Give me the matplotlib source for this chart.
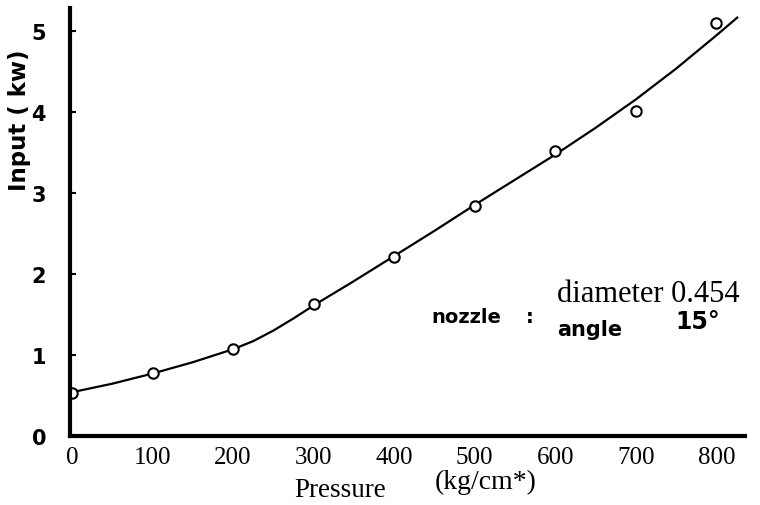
import matplotlib
matplotlib.use("Agg")
import matplotlib.pyplot as plt

# measured points (pressure kg/cm2 -> input kW)
pressure = [0, 100, 200, 300, 400, 500, 600, 700, 800]
power = [0.53, 0.78, 1.07, 1.63, 2.21, 2.84, 3.52, 4.01, 5.09]

# hand drawn fit curve
curve_p = [0, 50, 100, 125, 150, 175, 200, 225, 250, 275, 300, 350, 400,
           450, 500, 550, 600, 650, 700, 750, 800, 826]
curve_kw = [0.54, 0.645, 0.77, 0.84, 0.91, 0.99, 1.07, 1.17, 1.30, 1.45, 1.61,
            1.91, 2.22, 2.53, 2.85, 3.16, 3.47, 3.80, 4.15, 4.53, 4.94, 5.16]

xticks = [0, 100, 200, 300, 400, 500, 600, 700, 800]
yticks = [0, 1, 2, 3, 4, 5]

fig = plt.figure(figsize=(7.6, 5.06), dpi=100)
ax = fig.add_axes([0.0916, 0.1364, 0.889, 0.846])

ax.plot(curve_p, curve_kw, color="black", lw=1.6)
ax.plot(pressure, power, "o", mfc="white", mec="black", mew=1.5, ms=7.5)

ax.set_xlim(-3, 836)
ax.set_ylim(0, 5.28)

for s in ["top", "right"]:
    ax.spines[s].set_visible(False)
ax.spines["left"].set_linewidth(3)
ax.spines["bottom"].set_linewidth(3)

ax.set_xticks(xticks)
ax.set_xticklabels([str(v) for v in xticks], family="Liberation Serif", fontsize=18)
ax.tick_params(axis="x", length=0, pad=7)
ax.set_yticks(yticks)
ax.set_yticklabels([str(v) for v in yticks], family="DejaVu Sans",
                   fontsize=15, fontweight="bold")
ax.tick_params(axis="y", direction="in", length=4, width=1.5, pad=17)

fig.text(0.026, 0.763, "Input ( kw)", rotation=90, ha="center", va="center",
         family="DejaVu Sans", fontsize=16.5, fontweight="bold")
fig.text(0.448, 0.018, "Pressure", ha="center", va="baseline",
         family="Liberation Serif", fontsize=19.5)
fig.text(0.639, 0.034, "(kg/cm*)", ha="center", va="baseline",
         family="Liberation Serif", fontsize=20)

fig.text(0.568, 0.372, "nozzle", ha="left", va="center",
         family="DejaVu Sans", fontsize=14, fontweight="bold")
fig.text(0.697, 0.372, ":", ha="center", va="center",
         family="DejaVu Sans", fontsize=14, fontweight="bold")
fig.text(0.733, 0.417, "diameter 0.454", ha="left", va="center",
         family="Liberation Serif", fontsize=22)
fig.text(0.733, 0.348, "angle", ha="left", va="center",
         family="DejaVu Sans", fontsize=15, fontweight="bold")
fig.text(0.888, 0.363, "15°", ha="left", va="center",
         family="DejaVu Sans", fontsize=17, fontweight="bold")

fig.savefig("out.png", dpi=100)
